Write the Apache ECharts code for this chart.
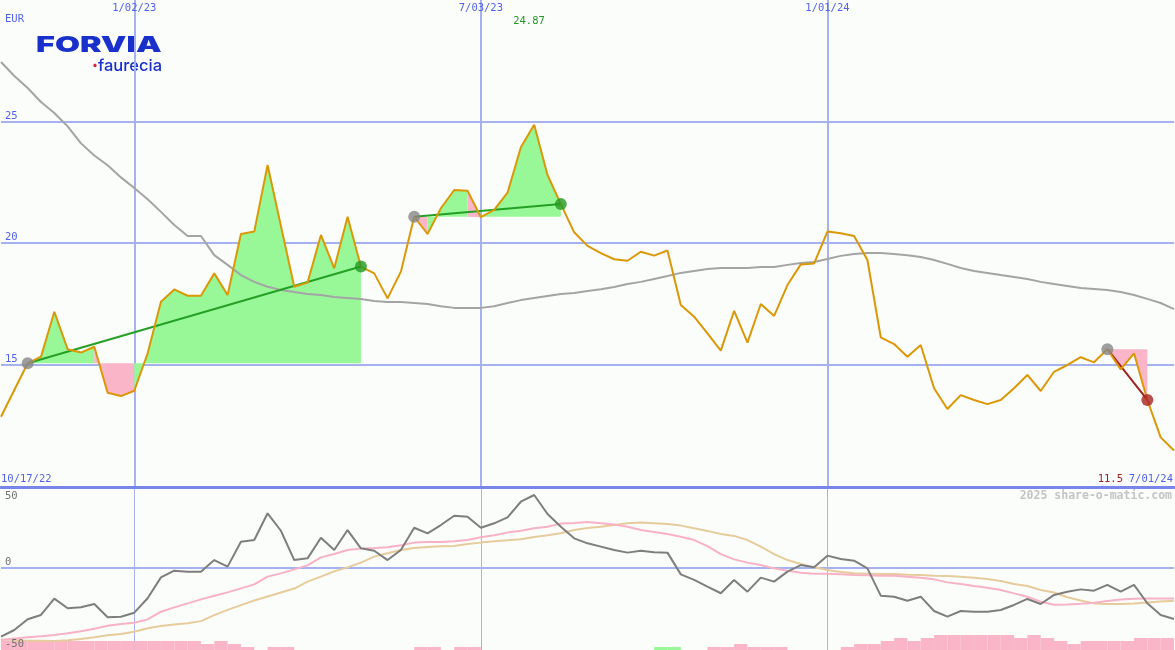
<!DOCTYPE html>
<html><head><meta charset="utf-8">
<script src="https://cdn.jsdelivr.net/npm/echarts@6/dist/echarts.min.js"></script>
<style>html,body{margin:0;padding:0;background:#fbfdfb;}#c{width:1175px;height:650px;}</style>
</head><body><div id="c"></div>
<script>
// ---- categories (weekly) ----
const dates = ['10/24/22','10/31/22','11/07/22','11/14/22','11/21/22','11/28/22','12/05/22','12/12/22','12/19/22','12/26/22',
'1/02/23','1/09/23','1/16/23','1/23/23','1/30/23','2/06/23','2/13/23','2/20/23','2/27/23','3/06/23','3/13/23','3/20/23','3/27/23',
'4/03/23','4/10/23','4/17/23','4/24/23','5/01/23','5/08/23','5/15/23','5/22/23','5/29/23','6/05/23','6/12/23','6/19/23','6/26/23',
'7/03/23','7/10/23','7/17/23','7/24/23','7/31/23','8/07/23','8/14/23','8/21/23','8/28/23','9/04/23','9/11/23','9/18/23','9/25/23',
'10/02/23','10/09/23','10/16/23','10/23/23','10/30/23','11/06/23','11/13/23','11/20/23','11/27/23','12/04/23','12/11/23','12/18/23','12/25/23',
'1/01/24','1/08/24','1/15/24','1/22/24','1/29/24','2/05/24','2/12/24','2/19/24','2/26/24','3/04/24','3/11/24','3/18/24','3/25/24',
'4/01/24','4/08/24','4/15/24','4/22/24','4/29/24','5/06/24','5/13/24','5/20/24','5/27/24','6/03/24','6/10/24','6/17/24','6/24/24','7/01/24'];
const topTickLabels = ['1/02/23','7/03/23','1/01/24'];
const rangeLabels = ['10/17/22','7/01/24'];
const currency = 'EUR';
const priceTicks = [15, 20, 25];
const oscTickZero = [0];
const oscTickUpper = [50];
const oscTickLower = [-50];

// ---- price panel ----
const price = [12.85,13.95,15.05,15.32,17.17,15.63,15.49,15.73,13.84,13.70,
13.92,15.46,17.58,18.09,17.83,17.83,18.75,17.86,20.37,20.47,23.21,20.70,18.20,18.37,20.33,18.96,21.08,19.03,18.75,17.72,
18.82,21.08,20.37,21.43,22.18,22.15,21.06,21.36,22.07,23.94,24.87,22.80,21.60,20.44,19.88,19.58,19.33,19.27,19.64,19.48,
19.69,17.45,16.97,16.28,15.57,17.21,15.90,17.49,17.00,18.27,19.12,19.16,20.47,20.40,20.29,19.30,16.12,15.84,15.32,15.80,
14.02,13.17,13.74,13.54,13.37,13.54,14.02,14.57,13.91,14.70,14.98,15.30,15.09,15.63,14.80,15.46,13.54,12.00,11.46];
const priceAvg = [27.45,26.87,26.38,25.80,25.35,24.80,24.10,23.60,23.20,22.70,
22.26,21.80,21.28,20.74,20.29,20.29,19.50,19.10,18.68,18.40,18.20,18.07,17.98,17.90,17.86,17.78,17.74,17.70,17.61,17.57,
17.57,17.53,17.49,17.40,17.33,17.33,17.33,17.40,17.53,17.65,17.74,17.82,17.90,17.94,18.02,18.10,18.19,18.31,18.40,18.52,
18.64,18.77,18.85,18.93,18.97,18.97,18.97,19.01,19.01,19.10,19.18,19.22,19.34,19.47,19.55,19.59,19.59,19.55,19.50,19.42,
19.30,19.14,18.97,18.85,18.77,18.68,18.60,18.52,18.40,18.31,18.23,18.15,18.11,18.07,17.98,17.86,17.70,17.53,17.28];
const trendStart = [2, 31, 83];
const trendEnd = [27, 42, 86];
const maxLabel = '24.87';
const lastLabel = '11.5';

// ---- oscillator panel ----
const osc = [-48.4,-43.7,-36.2,-33.2,-21.8,-28.5,-27.8,-25.5,-34.8,-34.4,
-31.6,-21.5,-6.9,-2.2,-2.9,-2.9,5.2,0.6,18.0,19.2,37.9,25.7,5.2,6.4,20.8,12.2,26.2,13.4,11.7,5.2,
12.2,27.8,23.9,29.7,36.2,35.5,27.8,30.9,35.1,46.0,50.7,37.4,28.5,20.4,16.9,14.6,12.2,10.4,11.7,10.6,
10.4,-4.8,-8.7,-13.4,-18.0,-8.7,-16.9,-7.1,-9.9,-2.9,1.7,0.1,8.3,5.9,4.8,-0.6,-19.7,-20.4,-23.2,-20.4,
-30.4,-34.4,-30.4,-30.9,-30.9,-29.7,-26.2,-22.0,-25.5,-19.2,-16.9,-15.3,-16.2,-12.2,-16.9,-12.2,-25.0,-33.2,-36.0];
const oscAvgFast = [-50.7,-49.7,-48.8,-48.1,-47.2,-46.0,-44.6,-42.8,-40.7,-39.5,
-38.6,-36.3,-30.9,-27.9,-25.1,-22.3,-19.7,-17.4,-14.6,-11.8,-6.4,-4.1,-1.3,1.5,7.1,9.4,12.2,13.2,13.6,14.1,
15.5,17.4,17.8,17.8,18.3,19.2,21.1,22.5,24.4,25.7,27.4,28.5,30.7,31.1,31.8,30.9,30.0,28.5,26.2,24.8,
23.4,21.5,19.2,15.0,9.4,5.7,3.4,1.7,-0.6,-2.2,-3.6,-4.3,-4.3,-4.8,-5.2,-5.5,-5.7,-5.7,-6.4,-7.1,
-8.3,-10.4,-11.5,-12.9,-14.1,-15.7,-18.1,-20.4,-23.9,-26.0,-25.8,-25.3,-24.6,-23.4,-22.3,-21.8,-21.6,-21.6,-21.6];
const oscAvgSlow = [-50.3,-50.7,-51.2,-51.2,-51.4,-50.9,-50.0,-48.8,-47.4,-46.5,
-44.9,-42.5,-40.9,-39.9,-39.0,-37.5,-33.3,-29.6,-26.3,-23.1,-20.3,-17.5,-14.7,-9.9,-6.4,-2.7,0.1,3.4,7.6,9.9,
12.2,13.6,14.3,14.8,15.0,16.4,17.4,18.3,19.0,19.7,21.3,22.5,23.9,26.2,27.6,28.5,29.7,30.9,31.4,30.9,
30.4,29.3,27.4,25.6,23.4,22.1,19.2,14.6,9.4,5.2,2.4,0.1,-1.7,-3.1,-4.1,-4.3,-4.5,-4.5,-5.0,-5.2,
-5.7,-5.9,-6.4,-7.1,-8.0,-9.4,-11.5,-12.9,-15.7,-17.5,-20.8,-23.1,-25.1,-25.6,-25.6,-25.1,-24.4,-23.7,-23.3];
// weekly signal bars (one per interval between consecutive weeks)
const pinkBars = [3,3,3,3,3,3,3,3,3,3,3,3,3,3,3,2,3,2,1,0,1,1,0,0,0,0,0,0,0,0,
0,1,1,0,1,1,0,0,0,0,0,0,0,0,0,0,0,0,0,0,0,0,0,1,1,2,1,1,1,0,
0,0,0,1,2,2,3,4,3,4,5,5,5,5,5,5,4,5,4,3,2,3,3,3,3,4,4,4];
const greenBars = [0,0,0,0,0,0,0,0,0,0,0,0,0,0,0,0,0,0,0,0,0,0,0,0,0,0,0,0,0,0,
0,0,0,0,0,0,0,0,0,0,0,0,0,0,0,0,0,0,0,1,1,0,0,0,0,0,0,0,0,0,
0,0,0,0,0,0,0,0,0,0,0,0,0,0,0,0,0,0,0,0,0,0,0,0,0,0,0,0];

// ---- styles ----
const BLUE_TXT = '#5262ee', GRID = '#a6b2f0', SEP = '#7886ec';
const MONO = '"DejaVu Sans Mono", monospace';
const GREEN_FILL = '#98f898', PINK_FILL = '#fab6c8';

const chart = echarts.init(document.getElementById('c'));
const isTop = (i, v) => topTickLabels.includes(v);

const series = [];
// fills between price and trend-start level, coloured per segment
trendStart.forEach((s, t) => {
  const base = price[s];
  const e = trendEnd[t];
  let runs = [];
  for (let i = s + 1; i <= e; i++) {
    const c = price[i] >= base ? 'g' : 'p';
    const last = runs[runs.length - 1];
    if (last && last.c === c) last.to = i; else runs.push({c: c, from: i - 1, to: i});
  }
  runs.forEach(r => {
    const d = price.map((v, i) => (i >= r.from && i <= r.to) ? v : null);
    series.push({type: 'line', xAxisIndex: 0, yAxisIndex: 0, data: d, symbol: 'none', silent: true,
      lineStyle: {width: 0}, areaStyle: {color: r.c === 'g' ? GREEN_FILL : PINK_FILL, opacity: 1, origin: base}, z: 1});
  });
});
series.push({type: 'line', xAxisIndex: 0, yAxisIndex: 0, data: priceAvg, symbol: 'none',
  lineStyle: {color: '#a4a4a4', width: 2}, z: 2});
const trendColor = ['#25a025', '#25a025', '#a02222'];
const endColor = ['#229922', '#229922', '#aa2222'];
trendStart.forEach((s, t) => {
  const e = trendEnd[t];
  series.push({type: 'line', xAxisIndex: 0, yAxisIndex: 0, data: [[s, price[s]], [e, price[e]]], symbol: 'none',
    lineStyle: {color: trendColor[t], width: 2}, z: 3});
});
series.push({type: 'line', xAxisIndex: 0, yAxisIndex: 0, data: price, symbol: 'none',
  lineStyle: {color: '#db9806', width: 2}, z: 4});
trendStart.forEach((s, t) => {
  const e = trendEnd[t];
  series.push({type: 'scatter', xAxisIndex: 0, yAxisIndex: 0, data: [[s, price[s]]], symbolSize: 12,
    itemStyle: {color: '#868686'}, z: 5});
  series.push({type: 'scatter', xAxisIndex: 0, yAxisIndex: 0, data: [[e, price[e]]], symbolSize: 12,
    itemStyle: {color: endColor[t]}, z: 5});
});
// oscillator panel
series.push({type: 'bar', xAxisIndex: 2, yAxisIndex: 4, data: pinkBars, barWidth: '100%', barGap: '-100%',
  itemStyle: {color: PINK_FILL}, z: 1, silent: true});
series.push({type: 'bar', xAxisIndex: 2, yAxisIndex: 4, data: greenBars, barWidth: '100%', barGap: '-100%',
  itemStyle: {color: GREEN_FILL}, z: 1, silent: true});
series.push({type: 'line', xAxisIndex: 1, yAxisIndex: 1, data: oscAvgSlow, symbol: 'none',
  lineStyle: {color: '#e6cc9c', width: 2}, z: 3});
series.push({type: 'line', xAxisIndex: 1, yAxisIndex: 1, data: oscAvgFast, symbol: 'none',
  lineStyle: {color: '#f8b2c6', width: 2}, z: 3});
series.push({type: 'line', xAxisIndex: 1, yAxisIndex: 1, data: osc, symbol: 'none',
  lineStyle: {color: '#7e7e7e', width: 2}, z: 4,
  markLine: {silent: true, symbol: 'none', label: {show: false}, lineStyle: {color: GRID, width: 2, type: 'solid'},
    data: [{yAxis: 0}], z: 2}});

const oscMin = -57.7, oscMax = 56.3;
const oscLabelAxis = (vals, align) => ({gridIndex: 1, type: 'value', min: oscMin, max: oscMax, position: 'left', z: 6,
  axisLine: {show: false}, axisTick: {show: false}, splitLine: {show: false},
  axisLabel: {inside: true, verticalAlign: align, margin: 4, color: '#707070', fontFamily: MONO, fontSize: 10.5,
    customValues: vals}});
chart.setOption({
  animation: false,
  backgroundColor: '#fbfdfb',
  grid: [{left: 1, right: 1, top: 0, height: 486}, {left: 1, right: 1, top: 487, height: 163}],
  xAxis: [
    {gridIndex: 0, type: 'category', data: dates, boundaryGap: false, position: 'top',
      axisLine: {show: false, onZero: false}, axisTick: {show: false},
      axisLabel: {inside: true, interval: isTop, color: BLUE_TXT, fontFamily: MONO, fontSize: 10.5, margin: 3},
      splitLine: {show: true, interval: isTop, lineStyle: {color: GRID, width: 2}}},
    {gridIndex: 1, type: 'category', data: dates, boundaryGap: false, position: 'top',
      axisLine: {show: true, onZero: false, lineStyle: {color: SEP, width: 3}}, axisTick: {show: false}, axisLabel: {show: false},
      splitLine: {show: true, interval: isTop, lineStyle: {color: GRID, width: 1}}},
    {gridIndex: 1, type: 'category', data: dates.slice(1), boundaryGap: true, show: false}
  ],
  yAxis: [
    {gridIndex: 0, type: 'value', min: 10, max: 30, interval: 5, position: 'left',
      axisLine: {show: false}, axisTick: {show: false},
      axisLabel: {inside: true, verticalAlign: 'bottom', margin: 4, color: BLUE_TXT, fontFamily: MONO, fontSize: 10.5,
        formatter: v => priceTicks.includes(v) ? String(v) : ''},
      splitLine: {show: true, showMinLine: false, showMaxLine: false, lineStyle: {color: GRID, width: 2}}},
    oscLabelAxis(oscTickZero, 'bottom'),
    oscLabelAxis(oscTickUpper, 'middle'),
    oscLabelAxis(oscTickLower, 'top'),
    {gridIndex: 1, type: 'value', min: 0, max: 54.33, show: false}
  ],
  graphic: [
    {type: 'text', left: 5, top: 14, style: {text: currency, fill: BLUE_TXT, font: '10.5px ' + MONO}},
    {type: 'text', x: 36, y: 34, scaleX: 1.47, style: {text: 'FORVIA', fill: '#1a30cc', font: '900 22px Inter'}},
    {type: 'text', x: 92, y: 58, style: {text: '{r|·}{b|faurecia}', rich: {
      r: {fill: '#e0203a', font: '900 16px Inter'}, b: {fill: '#1a30cc', font: '500 16.5px Inter'}}}},
    {type: 'text', x: 529, y: 21, style: {text: maxLabel, fill: '#229922', font: '10.5px ' + MONO, align: 'center', verticalAlign: 'middle'}},
    {type: 'text', x: 1, y: 479, style: {text: rangeLabels[0], fill: BLUE_TXT, font: '10.5px ' + MONO, verticalAlign: 'middle'}},
    {type: 'text', x: 1173, y: 479, style: {text: rangeLabels[1], fill: BLUE_TXT, font: '10.5px ' + MONO, align: 'right', verticalAlign: 'middle'}},
    {type: 'text', x: 1123, y: 479, style: {text: lastLabel, fill: '#992222', font: '10.5px ' + MONO, align: 'right', verticalAlign: 'middle'}},
    {type: 'text', x: 1172, y: 496, style: {text: '2025 share-o-matic.com', fill: '#c4c4c4', font: 'bold 11.5px ' + MONO, align: 'right', verticalAlign: 'middle'}}
  ],
  series: series
});
</script></body></html>
